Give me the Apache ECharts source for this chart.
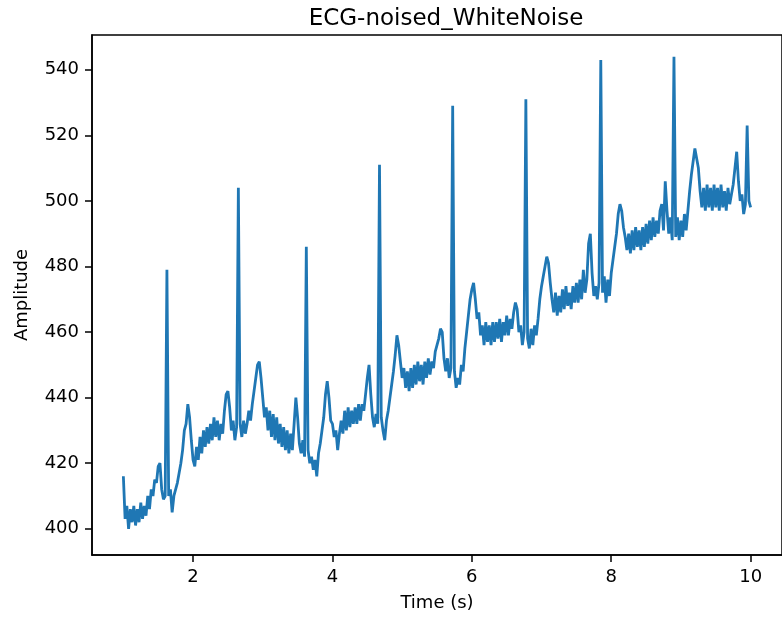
<!DOCTYPE html>
<html>
<head>
    <meta charset="utf-8">
    <title>ECG-noised_WhiteNoise</title>
    <script src="https://cdn.jsdelivr.net/npm/echarts@6.0.0/dist/echarts.min.js"></script>
</head>
<body style="margin:0">
    <div id="main" style="width: 782px;height:624px;"></div>
    <script type="text/javascript">
    // Data: one amplitude sample every 0.025 s, starting at 1 s
    var startTime = 1;
    var step = 0.025;
    var amplitude = [
      416,403,407,400,406,402,407,401,406,402,408,403,407,404,410,406,412,410,415,414, // 1.0
      419,420,412,409,410,479,410,412,405,410,412,414,417,420,424,430,432,438,434,427, // 1.5
      421,419,425,421,428,423,430,425,431,426,432,427,434,428,433,427,432,429,436,441, // 2.0
      442,437,430,433,427,431,504,432,428,433,429,432,436,433,438,442,446,450,451,446, // 2.5
      440,434,437,430,436,428,435,427,434,426,432,425,431,424,430,423,429,424,432,440, // 3.0
      434,426,423,427,422,486,424,420,422,418,421,416,423,426,430,434,441,445,440,433, // 3.5
      432,428,430,424,429,433,429,436,430,437,431,436,432,437,432,438,433,438,436,441, // 4.0
      446,450,441,434,431,435,432,511,434,430,427,433,436,440,444,448,453,459,456,451, // 4.5
      446,449,443,448,442,449,443,450,444,451,445,450,444,451,446,452,447,451,449,454, // 5.0
      456,458,461,460,452,448,452,446,449,529,448,443,446,444,450,448,455,460,465,470, // 5.5
      473,475,470,464,466,459,462,456,463,457,462,456,463,457,463,458,464,457,463,459, // 6.0
      465,459,464,461,466,469,467,460,462,456,460,531,458,455,461,456,462,459,464,470, // 6.5
      474,477,480,483,481,475,470,466,472,465,471,466,473,467,474,468,472,467,474,469, // 7.0
      475,469,476,470,479,472,476,487,490,478,471,474,470,475,543,472,477,469,476,471, // 7.5
      478,482,486,490,496,499,497,492,489,485,490,484,491,485,492,486,491,485,492,486, // 8.0
      493,487,494,488,495,489,494,490,497,499,491,506,497,490,495,488,544,489,495,488, // 8.5
      494,489,496,491,497,503,508,512,516,516,510,503,498,504,497,505,498,504,497,505, // 9.0
      498,504,497,505,498,503,497,504,499,502,505,510,515,506,500,502,496,499,523,500, // 9.5
      498                                                                              // 10.0
    ];
    var xTicks = [2, 4, 6, 8, 10];
    var yTicks = [400, 420, 440, 460, 480, 500, 520, 540];

    var seriesData = amplitude.map(function (v, i) {
      return [+(startTime + i * step).toFixed(3), v];
    });

    var font = 'DejaVu Sans';
    var myChart = echarts.init(document.getElementById('main'));

    var option = {
      animation: false,
      backgroundColor: '#fff',
      title: {
        text: 'ECG-noised_WhiteNoise',
        left: 441,
        textAlign: 'center',
        top: 3,
        textStyle: {
          fontFamily: font,
          fontSize: 23,
          fontWeight: 'normal',
          color: '#000'
        }
      },
      grid: {
        left: 92,
        right: -7,
        top: 35,
        bottom: 69,
        show: true,
        borderColor: '#000',
        borderWidth: 1.5,
        backgroundColor: 'transparent'
      },
      xAxis: {
        type: 'value',
        min: 0.55,
        max: 10.45,
        name: 'Time (s)',
        nameLocation: 'middle',
        nameGap: 39,
        nameTextStyle: { fontFamily: font, fontSize: 18, color: '#000' },
        axisLine: { onZero: false, lineStyle: { color: '#000', width: 1.5 } },
        axisTick: { show: true, length: 7, lineStyle: { color: '#000', width: 1.5 }, customValues: xTicks },
        axisLabel: { fontFamily: font, fontSize: 18, color: '#000', margin: 13, customValues: xTicks },
        splitLine: { show: false }
      },
      yAxis: {
        type: 'value',
        min: 392,
        max: 550.6,
        name: 'Amplitude',
        nameLocation: 'middle',
        nameRotate: 90,
        nameGap: 61,
        nameTextStyle: { fontFamily: font, fontSize: 18, color: '#000' },
        axisLine: { show: true, lineStyle: { color: '#000', width: 1.5 } },
        axisTick: { show: true, length: 7, lineStyle: { color: '#000', width: 1.5 }, customValues: yTicks },
        axisLabel: { fontFamily: font, fontSize: 18, color: '#000', margin: 13, customValues: yTicks },
        splitLine: { show: false }
      },
      series: [{
        name: 'ECG',
        type: 'line',
        data: seriesData,
        showSymbol: false,
        symbol: 'none',
        sampling: null,
        lineStyle: { color: '#1f77b4', width: 2.8 }
      }]
    };

    myChart.setOption(option);
    </script>
</body>
</html>
